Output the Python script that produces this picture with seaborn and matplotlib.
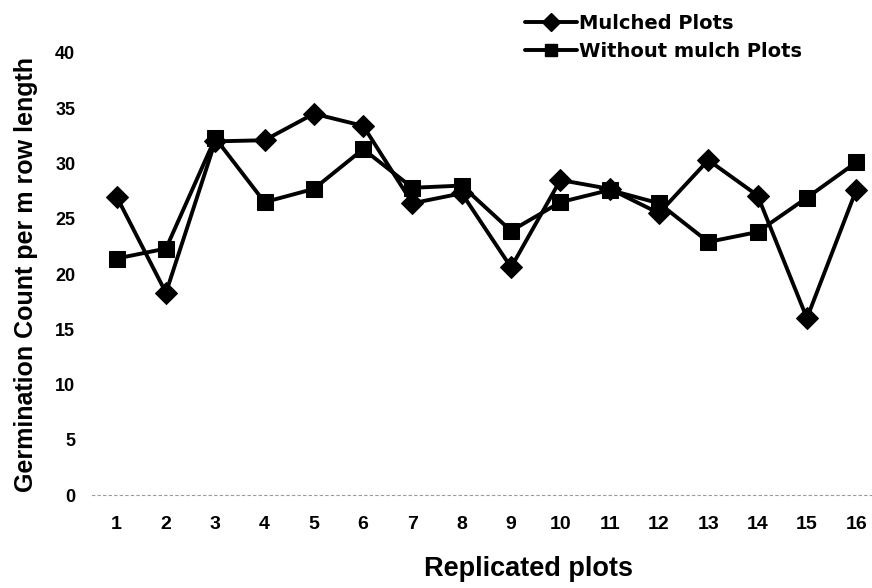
import matplotlib
matplotlib.use("Agg")
import matplotlib.pyplot as plt
import seaborn as sns
import pandas as pd

plots = list(range(1, 17))
mulched = [27.0, 18.3, 32.0, 32.1, 34.5, 33.4, 26.4, 27.3, 20.6, 28.5, 27.7, 25.5, 30.3, 27.1, 16.0, 27.6]
without_mulch = [21.4, 22.3, 32.3, 26.5, 27.7, 31.3, 27.8, 28.0, 23.9, 26.5, 27.6, 26.4, 22.9, 23.8, 26.9, 30.1]
series_names = ["Mulched Plots", "Without mulch Plots"]
y_ticks = [0, 5, 10, 15, 20, 25, 30, 35, 40]

df_m = pd.DataFrame({"plot": plots, "count": mulched})
df_w = pd.DataFrame({"plot": plots, "count": without_mulch})

sns.set_theme(style="white")
plt.rcParams["font.family"] = ["Liberation Sans", "DejaVu Sans"]
plt.rcParams["font.weight"] = "bold"
for key in ["text.color", "axes.labelcolor", "xtick.color", "ytick.color"]:
    plt.rcParams[key] = "black"

fig = plt.figure(figsize=(8.72, 5.88), dpi=100)
ax = fig.add_axes([0.1055, 0.158, 0.8945, 0.752])

sns.lineplot(data=df_m, x="plot", y="count", color="black", linewidth=2.8,
             marker="D", markersize=11, markeredgecolor="black", ax=ax)
sns.lineplot(data=df_w, x="plot", y="count", color="black", linewidth=2.8,
             marker="s", markersize=11.5, markeredgecolor="black", ax=ax)

ax.set_xlim(0.5, 16.32)
ax.set_ylim(0, 40)
ax.set_xticks(plots)
ax.set_xticklabels([str(p) for p in plots], fontsize=14, fontweight="bold")
ax.set_yticks(y_ticks)
ax.set_yticklabels([str(t) for t in y_ticks], fontsize=13, fontweight="bold")
ax.tick_params(axis="x", length=0, pad=15)
ax.tick_params(axis="y", length=0, pad=12)

for side in ["top", "right", "left"]:
    ax.spines[side].set_visible(False)
ax.spines["bottom"].set_color("#9a9a9a")
ax.spines["bottom"].set_linestyle((0, (2, 3)))
ax.spines["bottom"].set_linewidth(0.8)

ax.set_xlabel("Replicated plots", fontsize=19.5, fontweight="bold")
ax.xaxis.set_label_coords(0.56, -0.138)
ax.set_ylabel("Germination Count per m row length", fontsize=18, fontweight="bold")
ax.yaxis.set_label_coords(-0.069, 0.5)

handles = [
    plt.Line2D([], [], color="black", lw=2.8, marker="D", markersize=9),
    plt.Line2D([], [], color="black", lw=2.8, marker="s", markersize=9),
]
fig.legend(handles, series_names, loc="upper left", bbox_to_anchor=(0.602, 0.976),
           frameon=False, handlelength=2.7, handletextpad=0.1, labelspacing=0.45,
           borderpad=0, borderaxespad=0,
           prop={"size": 14, "weight": "bold", "family": ["DejaVu Sans"]})

fig.savefig("out.png", dpi=100, facecolor="white")
